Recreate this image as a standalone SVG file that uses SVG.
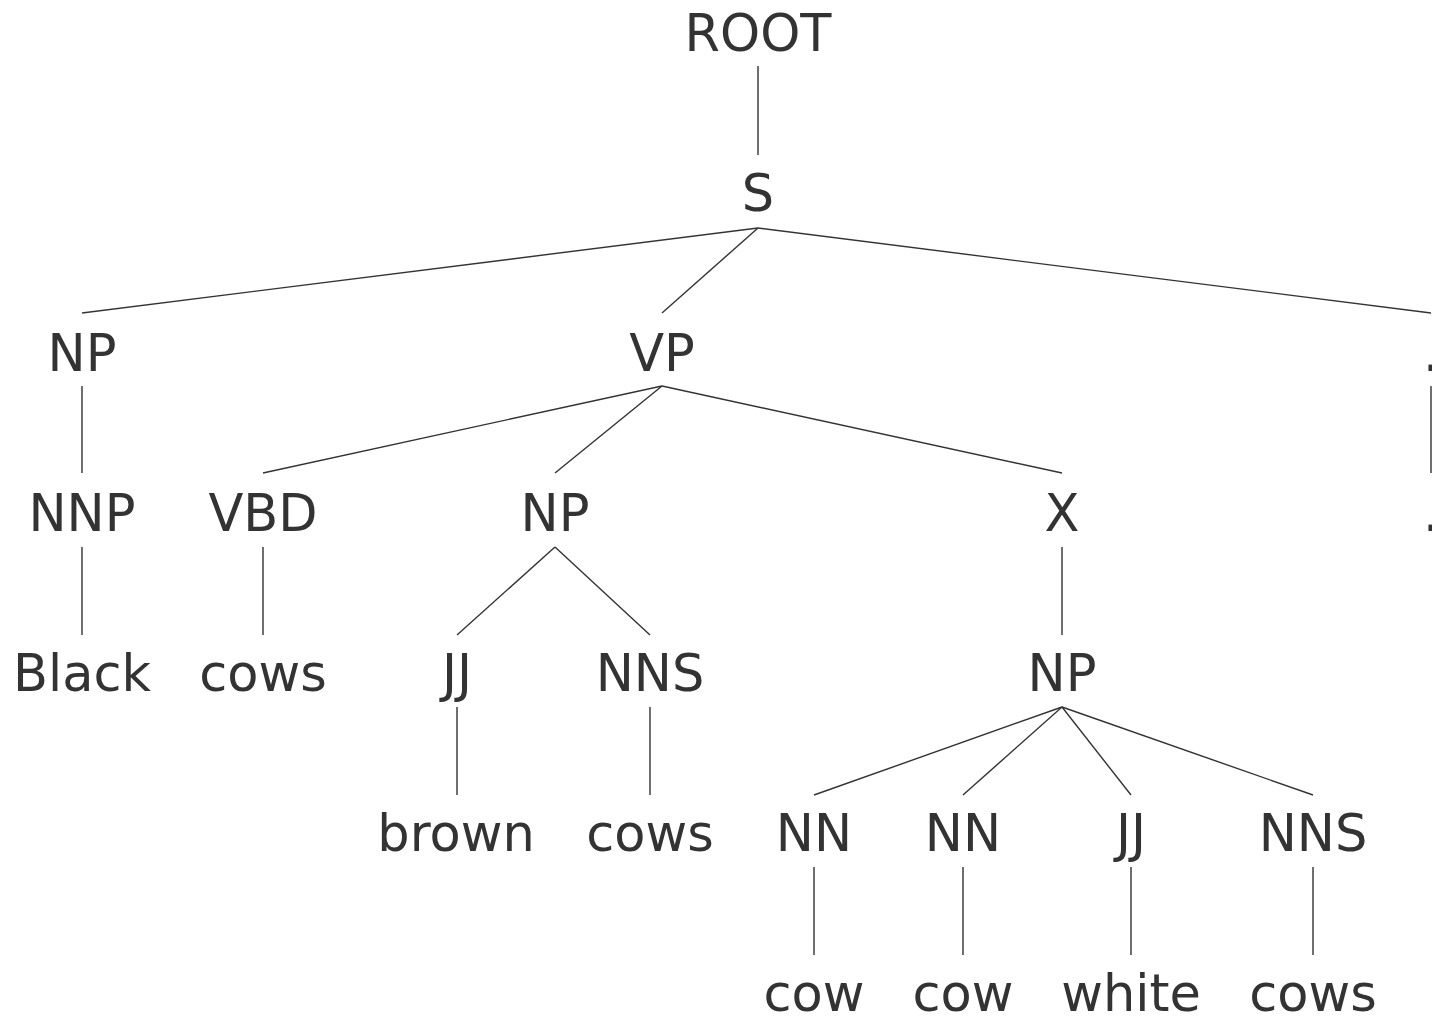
<svg xmlns="http://www.w3.org/2000/svg" width="1432" height="1016" viewBox="0 0 1432 1016">
<style>
text{font-family:"DejaVu Sans","Liberation Sans",sans-serif;font-size:51px;fill:#333;text-anchor:middle}
#edges line{stroke:#333;stroke-width:1.4}
</style>
<rect width="1432" height="1016" fill="#fff"/>
<g id="edges">
<line x1="758" y1="66" x2="758" y2="155"/>
<line x1="758" y1="228" x2="82" y2="313"/>
<line x1="758" y1="228" x2="662" y2="313"/>
<line x1="758" y1="228" x2="1431" y2="313"/>
<line x1="82" y1="386" x2="82" y2="473"/>
<line x1="662" y1="386" x2="263" y2="473"/>
<line x1="662" y1="386" x2="555" y2="473"/>
<line x1="662" y1="386" x2="1062" y2="473"/>
<line x1="1431" y1="386" x2="1431" y2="473"/>
<line x1="82" y1="547" x2="82" y2="635"/>
<line x1="263" y1="547" x2="263" y2="635"/>
<line x1="555" y1="547" x2="457" y2="635"/>
<line x1="555" y1="547" x2="650" y2="635"/>
<line x1="1062" y1="547" x2="1062" y2="635"/>
<line x1="457" y1="707" x2="457" y2="795"/>
<line x1="650" y1="707" x2="650" y2="795"/>
<line x1="1062" y1="707" x2="814" y2="795"/>
<line x1="1062" y1="707" x2="963" y2="795"/>
<line x1="1062" y1="707" x2="1131" y2="795"/>
<line x1="1062" y1="707" x2="1313" y2="795"/>
<line x1="814" y1="867" x2="814" y2="955"/>
<line x1="963" y1="867" x2="963" y2="955"/>
<line x1="1131" y1="867" x2="1131" y2="955"/>
<line x1="1313" y1="867" x2="1313" y2="955"/>
</g>
<g id="n_root"><text x="758" y="51">ROOT</text></g>
<g id="n_s"><text x="758" y="211">S</text></g>
<g id="n_np1"><text x="82" y="371">NP</text></g>
<g id="n_vp"><text x="662" y="371">VP</text></g>
<g id="n_dot"><text x="1431" y="371">.</text></g>
<g id="n_nnp"><text x="82" y="531">NNP</text></g>
<g id="n_vbd"><text x="263" y="531">VBD</text></g>
<g id="n_np2"><text x="555" y="531">NP</text></g>
<g id="n_x"><text x="1062" y="531">X</text></g>
<g id="n_dot2"><text x="1431" y="531">.</text></g>
<g id="n_black"><text x="82" y="691">Black</text></g>
<g id="n_cows1"><text x="263" y="691">cows</text></g>
<g id="n_jj1"><text x="457" y="691">JJ</text></g>
<g id="n_nns1"><text x="650" y="691">NNS</text></g>
<g id="n_np3"><text x="1062" y="691">NP</text></g>
<g id="n_brown"><text x="456" y="851">brown</text></g>
<g id="n_cows2"><text x="650" y="851">cows</text></g>
<g id="n_nn1"><text x="814" y="851">NN</text></g>
<g id="n_nn2"><text x="963" y="851">NN</text></g>
<g id="n_jj2"><text x="1131" y="851">JJ</text></g>
<g id="n_nns2"><text x="1313" y="851">NNS</text></g>
<g id="n_cow1"><text x="814" y="1011">cow</text></g>
<g id="n_cow2"><text x="963" y="1011">cow</text></g>
<g id="n_white"><text x="1131" y="1011">white</text></g>
<g id="n_cows3"><text x="1313" y="1011">cows</text></g>
</svg>
